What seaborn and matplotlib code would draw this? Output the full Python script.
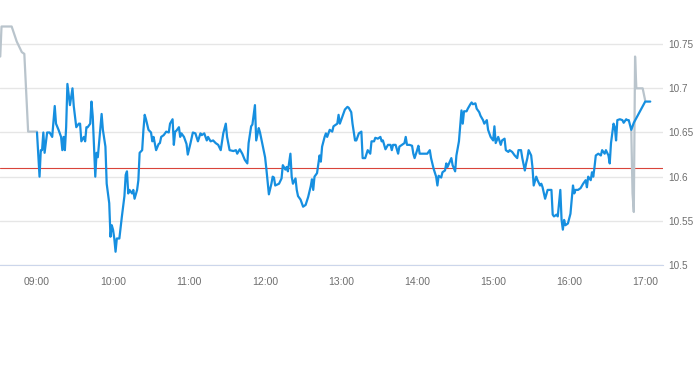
import pandas as pd
import seaborn as sns
import matplotlib
matplotlib.use("Agg")
import matplotlib.pyplot as plt
import matplotlib.dates as mdates

# 取引時間中の価格 (分単位, 09:00からの経過分)
session_min = [0, 2, 3, 4, 5, 6, 8, 10, 12, 13, 14, 15, 17, 19, 20, 21, 22, 23, 24, 26,
               28, 29, 31, 33, 34, 35, 37, 38, 39, 40, 42, 43, 44, 46, 47, 48, 51, 52, 54, 55,
               57, 58, 59, 60, 61, 62, 63, 65, 67, 69, 70, 71, 72, 73, 75, 76, 77, 79, 80, 81,
               83, 84, 85, 86, 88, 90, 91, 92, 94, 96, 97, 98, 100, 102, 104, 105, 107, 108, 109, 110,
               112, 113, 114, 116, 118, 119, 121, 123, 125, 127, 129, 130, 132, 134, 135, 137, 139, 141, 143, 145,
               147, 149, 150, 152, 155, 157, 158, 160, 162, 164, 166, 167, 169, 170, 172, 173, 175, 176, 178, 180,
               181, 183, 185, 186, 187, 188, 191, 193, 194, 196, 197, 198, 200, 201, 202, 204, 205, 206, 208, 210,
               212, 214, 216, 217, 218, 219, 221, 223, 224, 225, 227, 228, 229, 231, 233, 234, 237, 238, 239, 241,
               243, 245, 246, 248, 249, 251, 252, 254, 256, 257, 259, 261, 263, 264, 266, 267, 269, 271, 272, 273,
               275, 277, 279, 280, 281, 283, 285, 286, 288, 290, 291, 292, 294, 296, 297, 298, 300, 301, 302, 305,
               308, 310, 311, 313, 315, 316, 317, 319, 320, 322, 323, 324, 327, 328, 330, 331, 333, 335, 336, 337,
               339, 340, 342, 343, 344, 346, 347, 349, 350, 352, 353, 355, 356, 358, 360, 361, 362, 364, 366, 367,
               369, 370, 372, 373, 375, 377, 379, 380, 382, 383, 385, 386, 387, 388, 390, 391, 392, 394, 395, 397,
               398, 399, 401, 403, 405, 406, 407, 408, 410, 411, 413, 414, 415, 416, 417, 419, 421, 423, 424, 425,
               427, 429, 431, 433, 434, 435, 437, 438, 439, 440, 441, 443, 445, 446, 448, 449, 451, 452, 453, 455,
               456, 457, 458, 460, 462, 463, 465, 466, 467, 469, 470, 471, 480, 484]
session_price = [10.650, 10.600, 10.630, 10.630, 10.650, 10.627, 10.650, 10.650, 10.645, 10.662, 10.680, 10.660, 10.653, 10.645, 10.630, 10.645, 10.630, 10.656, 10.705, 10.681,
                 10.700, 10.680, 10.656, 10.660, 10.660, 10.640, 10.645, 10.640, 10.656, 10.656, 10.660, 10.685, 10.668, 10.600, 10.627, 10.622, 10.671, 10.653, 10.634, 10.592,
                 10.570, 10.532, 10.545, 10.540, 10.530, 10.515, 10.530, 10.530, 10.555, 10.578, 10.602, 10.606, 10.581, 10.585, 10.581, 10.585, 10.575, 10.585, 10.596, 10.627,
                 10.630, 10.653, 10.670, 10.665, 10.653, 10.650, 10.640, 10.645, 10.630, 10.637, 10.638, 10.645, 10.647, 10.651, 10.650, 10.660, 10.665, 10.636, 10.651, 10.652,
                 10.656, 10.645, 10.649, 10.645, 10.637, 10.625, 10.637, 10.650, 10.649, 10.640, 10.649, 10.647, 10.649, 10.641, 10.645, 10.640, 10.641, 10.638, 10.636, 10.630,
                 10.649, 10.660, 10.645, 10.630, 10.629, 10.630, 10.626, 10.631, 10.626, 10.619, 10.615, 10.638, 10.657, 10.659, 10.681, 10.641, 10.655, 10.650, 10.636, 10.622,
                 10.609, 10.580, 10.592, 10.600, 10.599, 10.590, 10.592, 10.598, 10.613, 10.608, 10.611, 10.606, 10.626, 10.600, 10.592, 10.598, 10.585, 10.578, 10.574, 10.566,
                 10.568, 10.577, 10.589, 10.597, 10.585, 10.600, 10.604, 10.624, 10.617, 10.634, 10.645, 10.649, 10.645, 10.653, 10.651, 10.657, 10.660, 10.670, 10.660, 10.668,
                 10.676, 10.679, 10.678, 10.673, 10.660, 10.641, 10.641, 10.649, 10.651, 10.621, 10.621, 10.630, 10.626, 10.640, 10.640, 10.644, 10.643, 10.645, 10.640, 10.641,
                 10.631, 10.636, 10.636, 10.630, 10.636, 10.636, 10.626, 10.634, 10.636, 10.638, 10.645, 10.636, 10.636, 10.635, 10.626, 10.621, 10.630, 10.635, 10.626, 10.626,
                 10.626, 10.630, 10.621, 10.609, 10.600, 10.590, 10.601, 10.599, 10.605, 10.607, 10.615, 10.611, 10.621, 10.613, 10.606, 10.624, 10.640, 10.675, 10.660, 10.674,
                 10.674, 10.677, 10.682, 10.684, 10.682, 10.683, 10.677, 10.673, 10.669, 10.664, 10.660, 10.664, 10.653, 10.645, 10.641, 10.657, 10.638, 10.645, 10.636, 10.641,
                 10.643, 10.630, 10.628, 10.630, 10.628, 10.624, 10.621, 10.630, 10.630, 10.621, 10.607, 10.615, 10.621, 10.630, 10.624, 10.611, 10.590, 10.600, 10.596, 10.590,
                 10.592, 10.588, 10.575, 10.585, 10.585, 10.585, 10.557, 10.555, 10.557, 10.555, 10.585, 10.551, 10.540, 10.551, 10.545, 10.547, 10.558, 10.590, 10.581, 10.585,
                 10.585, 10.587, 10.592, 10.596, 10.588, 10.600, 10.596, 10.605, 10.600, 10.611, 10.624, 10.626, 10.624, 10.630, 10.626, 10.630, 10.624, 10.615, 10.638, 10.660,
                 10.656, 10.641, 10.664, 10.665, 10.664, 10.661, 10.665, 10.664, 10.664, 10.653, 10.657, 10.661, 10.685, 10.685]

# 時間外 (プレ/アフター)
pre_min = [-29, -28, -20, -16, -12, -10, -7, 0]
pre_price = [10.736, 10.770, 10.770, 10.753, 10.741, 10.739, 10.651, 10.651]
post_min = [469, 470, 471, 472, 473, 478, 480]
post_price = [10.653, 10.581, 10.560, 10.736, 10.700, 10.700, 10.686]

prev_close = 10.61
y_ticks = [10.5, 10.55, 10.6, 10.65, 10.7, 10.75]
y_tick_labels = ["10.5", "10.55", "10.6", "10.65", "10.7", "10.75"]

base = pd.Timestamp("2024-01-02 09:00")
def to_df(mins, prices):
    return pd.DataFrame({"time": base + pd.to_timedelta(mins, unit="min"), "price": prices})

df_session = to_df(session_min, session_price)
df_pre = to_df(pre_min, pre_price)
df_post = to_df(post_min, post_price)

sns.set_style("white")
plt.rcParams["font.family"] = ["Liberation Sans", "DejaVu Sans"]

fig = plt.figure(figsize=(6.93, 3.65), dpi=100)
ax = fig.add_axes([0, 0.274, 0.957, 0.726])

ax.axhline(prev_close, color="#d9443a", lw=0.8, zorder=2)
sns.lineplot(data=df_pre, x="time", y="price", ax=ax, color="#b9c4cc", lw=1.6,
             estimator=None, sort=False, zorder=3)
sns.lineplot(data=df_post, x="time", y="price", ax=ax, color="#b9c4cc", lw=1.6,
             estimator=None, sort=False, zorder=3)
sns.lineplot(data=df_session, x="time", y="price", ax=ax, color="#168fe0", lw=1.6,
             estimator=None, sort=False, zorder=4)

ax.set_xlim(base - pd.Timedelta(minutes=29.2), base + pd.Timedelta(minutes=494.2))
ax.set_ylim(10.5, 10.8)
ax.yaxis.tick_right()
ax.set_yticks(y_ticks)
ax.set_yticklabels(y_tick_labels)
ax.xaxis.set_major_locator(mdates.HourLocator())
ax.xaxis.set_major_formatter(mdates.DateFormatter("%H:%M"))

ax.grid(axis="y", color="#e6e6e6", lw=1)
ax.grid(axis="x", visible=False)
ax.tick_params(axis="y", length=0, pad=4, labelsize=7.2, labelcolor="#6e6e6e")
ax.tick_params(axis="x", length=5, width=1, color="#ccd6eb", pad=4,
               labelsize=7.5, labelcolor="#6e6e6e")
for s in ["top", "left", "right"]:
    ax.spines[s].set_visible(False)
ax.spines["bottom"].set_color("#ccd6eb")
ax.set_xlabel("")
ax.set_ylabel("")

fig.savefig("out.png", dpi=100)
